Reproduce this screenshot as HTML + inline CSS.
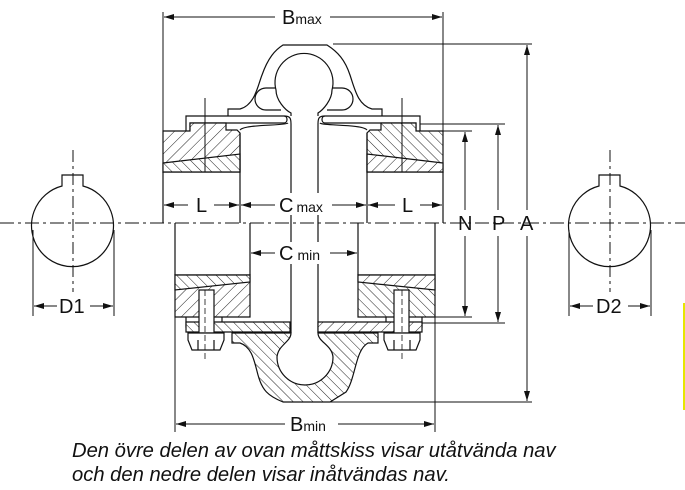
<!DOCTYPE html>
<html><head><meta charset="utf-8"><style>
html,body{margin:0;padding:0;background:#fff;}
svg{display:block;}
.cap{font-family:"Liberation Sans",sans-serif;font-style:italic;font-size:20.2px;fill:#111;}
.lb{font-family:"Liberation Sans",sans-serif;font-size:20px;fill:#111;}
.sm{font-family:"Liberation Sans",sans-serif;font-size:14px;fill:#111;}
</style></head><body>
<svg width="685" height="490" viewBox="0 0 685 490" xmlns="http://www.w3.org/2000/svg">
<defs>
<pattern id="h1" patternUnits="userSpaceOnUse" width="8" height="8" patternTransform="rotate(45)">
<rect width="8" height="8" fill="#fff"/><line x1="0" y1="0" x2="0" y2="8" stroke="#222" stroke-width="1"/></pattern>
<pattern id="h2" patternUnits="userSpaceOnUse" width="7" height="7" patternTransform="rotate(-45)">
<rect width="7" height="7" fill="#fff"/><line x1="0" y1="0" x2="0" y2="7" stroke="#222" stroke-width="1"/></pattern>
<marker id="ar" viewBox="0 0 10 6" refX="10" refY="3" markerWidth="10" markerHeight="6" orient="auto-start-reverse" markerUnits="userSpaceOnUse">
<path d="M0,0 L10,3 L0,6 z" fill="#111"/></marker>
</defs>
<g fill="none" stroke="#111" stroke-width="1.2">
<line x1="0" y1="223" x2="685" y2="223" stroke-dasharray="14,4,3,4" stroke-width="1"/>
<path d="M62,186 A41,41 0 1 0 83,186 L83,175 L62,175 Z"/>
<line x1="73" y1="150" x2="73" y2="292" stroke-dasharray="12,4,3,4" stroke-width="1"/>
<line x1="33" y1="230" x2="33" y2="316" stroke-width="1"/>
<line x1="114" y1="230" x2="114" y2="316" stroke-width="1"/>
<line x1="34" y1="306" x2="57" y2="306" marker-start="url(#ar)" stroke-width="1"/>
<line x1="90" y1="306" x2="113" y2="306" marker-end="url(#ar)" stroke-width="1"/>
<path d="M599,186 A41,41 0 1 0 620,186 L620,175 L599,175 Z"/>
<line x1="610" y1="150" x2="610" y2="292" stroke-dasharray="12,4,3,4" stroke-width="1"/>
<line x1="569" y1="230" x2="569" y2="316" stroke-width="1"/>
<line x1="651" y1="230" x2="651" y2="316" stroke-width="1"/>
<line x1="570" y1="306" x2="593" y2="306" marker-start="url(#ar)" stroke-width="1"/>
<line x1="628" y1="306" x2="650" y2="306" marker-end="url(#ar)" stroke-width="1"/>

<line x1="163" y1="12" x2="163" y2="131" stroke-width="1"/>
<line x1="443" y1="12" x2="443" y2="131" stroke-width="1"/>
<line x1="164" y1="17" x2="275" y2="17" marker-start="url(#ar)" stroke-width="1"/>
<line x1="330" y1="17" x2="442" y2="17" marker-end="url(#ar)" stroke-width="1"/>

<path d="M228,116 L228,109 L240,109 C255,105 258,85 262,75 C268,58 275,50 283,45 L327,45 C338,52 345,60 350,75 C355,90 358,105 372,109 L382,109 L382,116"/>
<path d="M291,116 L291,113 C285,110 276,100 276,90 A29,29 0 1 1 332,90 C332,100 323,110 318,113 L318,116"/>
<path d="M276,88 L266,88 A11,11 0 0 0 266,110 L281,110"/>
<path d="M332,88 L342,88 A11,11 0 0 1 342,110 L327,110"/>
<path d="M186,131 L186,116 L284,116 C288,116 288,123 284,123 L190,123 L190,131" fill="#fff"/>
<path d="M420,131 L420,116 L325,116 C321,116 321,123 325,123 L416,123 L416,131" fill="#fff"/>
<path d="M284,116 C290,116 291,118 291,124 L291,333"/>
<path d="M325,116 C319,116 318,118 318,124 L318,333"/>
<path d="M240,130 C245,124 285,126 288,123"/>
<path d="M367,130 C362,124 322,126 320,123"/>
<path d="M163,131 L190,131 L190,123 L226,123 L226,130 L237,130 L240,133 L240,172 L163,172 Z" fill="url(#h1)"/>
<path d="M163,163 L240,154 L240,172 L163,172 Z" fill="url(#h2)"/>
<line x1="163" y1="172" x2="163" y2="223"/>
<line x1="240" y1="133" x2="240" y2="223"/>
<path d="M443,131 L416,131 L416,123 L381,123 L381,130 L370,130 L367,133 L367,172 L443,172 Z" fill="url(#h2)"/>
<path d="M443,163 L367,154 L367,172 L443,172 Z" fill="url(#h1)"/>
<line x1="443" y1="172" x2="443" y2="223"/>
<line x1="367" y1="133" x2="367" y2="223"/>
<line x1="205" y1="98" x2="205" y2="172" stroke-width="1"/>
<line x1="402" y1="98" x2="402" y2="172" stroke-width="1"/>

<line x1="164" y1="205" x2="188" y2="205" marker-start="url(#ar)" stroke-width="1"/>
<line x1="214" y1="205" x2="239" y2="205" marker-end="url(#ar)" stroke-width="1"/>
<line x1="241" y1="205" x2="275" y2="205" marker-start="url(#ar)" stroke-width="1"/>
<line x1="332" y1="205" x2="366" y2="205" marker-end="url(#ar)" stroke-width="1"/>
<line x1="368" y1="205" x2="395" y2="205" marker-start="url(#ar)" stroke-width="1"/>
<line x1="420" y1="205" x2="442" y2="205" marker-end="url(#ar)" stroke-width="1"/>

<line x1="175" y1="223" x2="175" y2="275"/>
<line x1="250" y1="223" x2="250" y2="275"/>
<line x1="358" y1="223" x2="358" y2="275"/>
<line x1="435" y1="223" x2="435" y2="275"/>
<path d="M175,275 L250,275 L250,317 L175,317 Z" fill="url(#h1)"/>
<path d="M175,275 L250,275 L250,282 L175,290 Z" fill="url(#h2)"/>
<path d="M358,275 L435,275 L435,317 L358,317 Z" fill="url(#h2)"/>
<path d="M358,275 L435,275 L435,290 L358,282 Z" fill="url(#h1)"/>
<path d="M186,317 L186,327 L222,327 L222,317" />
<path d="M386,317 L386,327 L422,327 L422,317" />
<path d="M186,322 L290,322 L290,332 L186,332 Z" fill="url(#h2)"/>
<path d="M318,322 L422,322 L422,332 L318,332 Z" fill="url(#h1)"/>
<rect x="199" y="290" width="15" height="43" fill="#fff"/>
<path d="M188,333 L224,333 L224,340 L220,350 L192,350 L188,340 Z" fill="#fff"/>
<line x1="198" y1="340" x2="198" y2="350"/><line x1="214" y1="340" x2="214" y2="350"/>
<rect x="394" y="290" width="15" height="43" fill="#fff"/>
<path d="M384,333 L420,333 L420,340 L416,350 L388,350 L384,340 Z" fill="#fff"/>
<line x1="394" y1="340" x2="394" y2="350"/><line x1="410" y1="340" x2="410" y2="350"/>
<path d="M232,333 L291,333 C291,342 278,345 277,357 A28,28 0 0 0 333,357 C332,345 318,342 318,333 L378,333 L378,343 L368,343 C355,350 356,378 346,392 L330,402 L283,402 C268,396 262,390 258,375 C254,360 252,347 240,343 L232,343 Z" fill="url(#h2)"/>
<line x1="205" y1="290" x2="205" y2="360" stroke-width="0.8" stroke-dasharray="6,3"/>
<line x1="402" y1="290" x2="402" y2="360" stroke-width="0.8" stroke-dasharray="6,3"/>

<line x1="251" y1="253" x2="275" y2="253" marker-start="url(#ar)" stroke-width="1"/>
<line x1="330" y1="253" x2="357" y2="253" marker-end="url(#ar)" stroke-width="1"/>
<line x1="175" y1="317" x2="175" y2="432" stroke-width="1"/>
<line x1="435" y1="317" x2="435" y2="432" stroke-width="1"/>
<line x1="176" y1="424" x2="285" y2="424" marker-start="url(#ar)" stroke-width="1"/>
<line x1="338" y1="424" x2="434" y2="424" marker-end="url(#ar)" stroke-width="1"/>

<line x1="333" y1="44" x2="532" y2="44" stroke-width="1"/>
<line x1="420" y1="124" x2="505" y2="124" stroke-width="1"/>
<line x1="443" y1="131" x2="472" y2="131" stroke-width="1"/>
<line x1="435" y1="317" x2="472" y2="317" stroke-width="1"/>
<line x1="422" y1="323" x2="505" y2="323" stroke-width="1"/>
<line x1="330" y1="402" x2="532" y2="402" stroke-width="1"/>
<line x1="465" y1="132" x2="465" y2="210" marker-start="url(#ar)" stroke-width="1"/>
<line x1="465" y1="236" x2="465" y2="316" marker-end="url(#ar)" stroke-width="1"/>
<line x1="498" y1="125" x2="498" y2="210" marker-start="url(#ar)" stroke-width="1"/>
<line x1="498" y1="236" x2="498" y2="322" marker-end="url(#ar)" stroke-width="1"/>
<line x1="527" y1="45" x2="527" y2="210" marker-start="url(#ar)" stroke-width="1"/>
<line x1="527" y1="236" x2="527" y2="401" marker-end="url(#ar)" stroke-width="1"/>
</g>
<line x1="684" y1="303" x2="684" y2="410" stroke="#e6e600" stroke-width="2"/>

<g fill="#fff">
<rect x="277" y="6" width="52" height="22"/>
<rect x="276" y="193" width="56" height="22"/>
<rect x="276" y="242" width="54" height="22"/>
<rect x="286" y="413" width="52" height="22"/>
</g>
<text class="lb" x="282" y="24">B<tspan class="sm">max</tspan></text>
<text class="lb" x="196" y="212">L</text>
<text class="lb" x="402" y="212">L</text>
<text class="lb" x="279" y="212">C<tspan class="sm" dx="3">max</tspan></text>
<text class="lb" x="279" y="260">C<tspan class="sm" dx="4">min</tspan></text>
<text class="lb" x="290" y="431">B<tspan class="sm">min</tspan></text>
<text class="lb" x="458" y="230">N</text>
<text class="lb" x="492" y="230">P</text>
<text class="lb" x="520" y="230">A</text>
<text class="lb" x="59" y="313">D1</text>
<text class="lb" x="596" y="313">D2</text>
<text class="cap" x="72" y="457">Den övre delen av ovan måttskiss visar utåtvända nav</text>
<text class="cap" x="72" y="481">och den nedre delen visar inåtvändas nav.</text>
</svg>
</body></html>
